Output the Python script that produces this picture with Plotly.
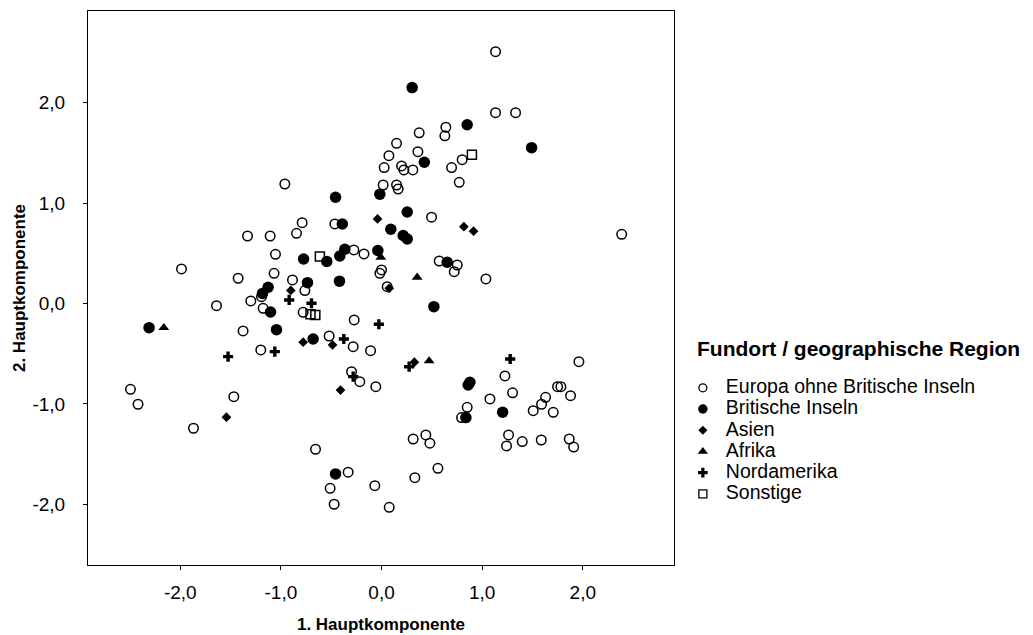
import plotly.graph_objects as go

# Principal component scores by find-spot region
europa_x = [1.133, 1.133, 1.332, 0.374, 0.639, 0.629, 0.149, 0.073, 0.361, 0.026,
            0.199, 0.222, 0.311, 0.696, 0.801, 0.772, 0.016, 0.149, 0.165, -0.961,
            -0.789, -0.845, -1.332, -1.107, -0.464, 0.497, -1.054, -0.275, -0.175, 0.573,
            0.752, 0.722, 1.037, 0.0, -0.017, 0.056, 2.386, -1.988, -1.425, -1.068,
            -0.885, -0.762, -1.193, -1.299, -1.64, -1.177, -0.779, -1.376, -0.521, -0.282,
            -1.2, -0.109, -0.272, -0.298, -0.216, -0.057, -1.468, -2.495, -2.42, -1.869,
            -0.656, -0.332, -0.511, -0.067, -0.471, 0.076, 1.077, 0.851, 0.795, 1.507,
            1.59, 1.706, 0.314, 0.44, 0.48, 1.262, 1.242, 1.398, 1.587, 1.865,
            1.909, 0.56, 0.331, 1.226, 1.302, 1.961, 1.749, 1.782, 1.878, 1.63]
europa_y = [2.508, 1.90, 1.90, 1.70, 1.755, 1.67, 1.595, 1.472, 1.512, 1.353,
            1.37, 1.33, 1.33, 1.353, 1.432, 1.207, 1.18, 1.18, 1.14, 1.19,
            0.805, 0.699, 0.672, 0.672, 0.792, 0.859, 0.49, 0.533, 0.493, 0.423,
            0.383, 0.317, 0.244, 0.334, 0.30, 0.167, 0.689, 0.344, 0.251, 0.30,
            0.234, 0.128, 0.068, 0.025, -0.022, -0.048, -0.088, -0.274, -0.324, -0.43,
            -0.463, -0.47, -0.164, -0.679, -0.779, -0.829, -0.928, -0.855, -1.004, -1.243,
            -1.452, -1.681, -1.841, -1.815, -2.0, -2.03, -0.951, -1.034, -1.137, -1.068,
            -1.004, -1.084, -1.35, -1.31, -1.392, -1.31, -1.419, -1.376, -1.36, -1.35,
            -1.43, -1.642, -1.735, -0.722, -0.89, -0.58, -0.829, -0.829, -0.918, -0.935]

brit_x = [0.304, 0.851, 1.491, 0.425, -0.017, -0.457, 0.255, 0.092, 0.215, 0.255,
          -0.39, -0.037, -0.775, -0.544, -0.415, -0.365, 0.652, -0.736, -0.418, -1.127,
          -1.183, -1.103, -1.044, -0.68, -2.31, 0.52, 0.861, 0.878, 0.838, 1.203, -0.457]
brit_y = [2.15, 1.78, 1.552, 1.407, 1.088, 1.058, 0.911, 0.739, 0.677, 0.642,
          0.792, 0.528, 0.443, 0.418, 0.473, 0.54, 0.41, 0.207, 0.222, 0.161,
          0.10, -0.085, -0.261, -0.354, -0.241, -0.032, -0.812, -0.785, -1.137, -1.084, -1.698]

asien_x = [-0.04, 0.818, 0.914, -0.902, 0.076, -0.779, -0.487, -0.408, -1.541, 0.326]
asien_y = [0.842, 0.765, 0.72, 0.13, 0.151, -0.386, -0.413, -0.862, -1.133, -0.585]

afrika_x = [-2.164, -0.007, 0.354, 0.473]
afrika_y = [-0.241, 0.46, 0.261, -0.573]

nordam_x = [-0.918, -0.696, -0.375, -1.061, -0.282, -0.027, 0.274, 1.278, -1.525]
nordam_y = [0.035, 0.002, -0.354, -0.48, -0.729, -0.207, -0.63, -0.553, -0.53]

sonst_x = [0.898, -0.613, -0.706, -0.658]
sonst_y = [1.48, 0.468, -0.108, -0.115]

tick_vals = [-2, -1, 0, 1, 2]
tick_text = ["-2,0", "-1,0", "0,0", "1,0", "2,0"]

FONT = "Liberation Sans, Arial, sans-serif"
LEGEND_TEXT_PX = 19.5

groups = [
    ("Europa ohne Britische Inseln", europa_x, europa_y,
     dict(symbol="circle-open", size=9.5, color="black", line=dict(width=1.5, color="black")),
     dict(symbol="circle-open", size=8, color="black", line=dict(width=1.3, color="black"))),
    ("Britische Inseln", brit_x, brit_y,
     dict(symbol="circle", size=11.5, color="black", line=dict(width=0)),
     dict(symbol="circle", size=9.5, color="black", line=dict(width=0))),
    ("Asien", asien_x, asien_y,
     dict(symbol="diamond", size=7.5, color="black", line=dict(width=0)),
     dict(symbol="diamond", size=7, color="black", line=dict(width=0))),
    ("Afrika", afrika_x, afrika_y,
     dict(symbol="triangle-up", size=9.5, color="black", line=dict(width=0)),
     dict(symbol="triangle-up", size=9, color="black", line=dict(width=0))),
    ("Nordamerika", nordam_x, nordam_y,
     dict(symbol="cross", size=8.5, color="black", line=dict(width=0)),
     dict(symbol="cross", size=8, color="black", line=dict(width=0))),
    ("Sonstige", sonst_x, sonst_y,
     dict(symbol="square-open", size=9, color="black", line=dict(width=1.5, color="black")),
     dict(symbol="square-open", size=8, color="black", line=dict(width=1.3, color="black"))),
]

fig = go.Figure()
for name, xs, ys, mk, _ in groups:
    fig.add_trace(go.Scatter(x=xs, y=ys, mode="markers", name=name,
                             marker=mk, showlegend=False, hoverinfo="x+y+name"))
# legend entries with their own (smaller) symbols and larger text
for name, _, _, _, lmk in groups:
    fig.add_trace(go.Scatter(
        x=[None], y=[None], mode="markers",
        name=f'<span style="font-size:{LEGEND_TEXT_PX}px">{name}</span>',
        marker=lmk, showlegend=True))

axis_common = dict(
    showgrid=False, zeroline=False, showline=True, linecolor="black", linewidth=1,
    mirror=True, ticks="outside", ticklen=4, tickcolor="black", tickwidth=1,
    tickvals=tick_vals, ticktext=tick_text, automargin=False,
    tickfont=dict(family=FONT, size=19, color="black"),
)

fig.update_layout(
    width=1033, height=635,
    margin=dict(l=88, r=359, t=11, b=70),
    paper_bgcolor="white", plot_bgcolor="white",
    font=dict(family=FONT, size=14, color="black"),
    xaxis=dict(range=[-2.917, 2.906],
               title=dict(text="<b>1. Hauptkomponente</b>", standoff=16,
                          font=dict(family=FONT, size=17, color="black")),
               ticklabelstandoff=6, **axis_common),
    yaxis=dict(range=[-2.605, 2.913],
               title=dict(text="<b>2. Hauptkomponente</b>", standoff=2,
                          font=dict(family=FONT, size=17, color="black")),
               ticklabelstandoff=14, **axis_common),
    legend=dict(x=1.01, xanchor="left", y=0.348, yanchor="top",
                font=dict(family=FONT, size=14, color="black"),
                bgcolor="rgba(0,0,0,0)", tracegroupgap=0, itemwidth=36),
    annotations=[dict(text="<b>Fundort / geographische Region</b>", xref="paper", yref="paper",
                      x=1.036, y=0.39, xanchor="left", yanchor="middle", showarrow=False,
                      font=dict(family=FONT, size=21, color="black"))],
)

fig.write_html("out.html")
